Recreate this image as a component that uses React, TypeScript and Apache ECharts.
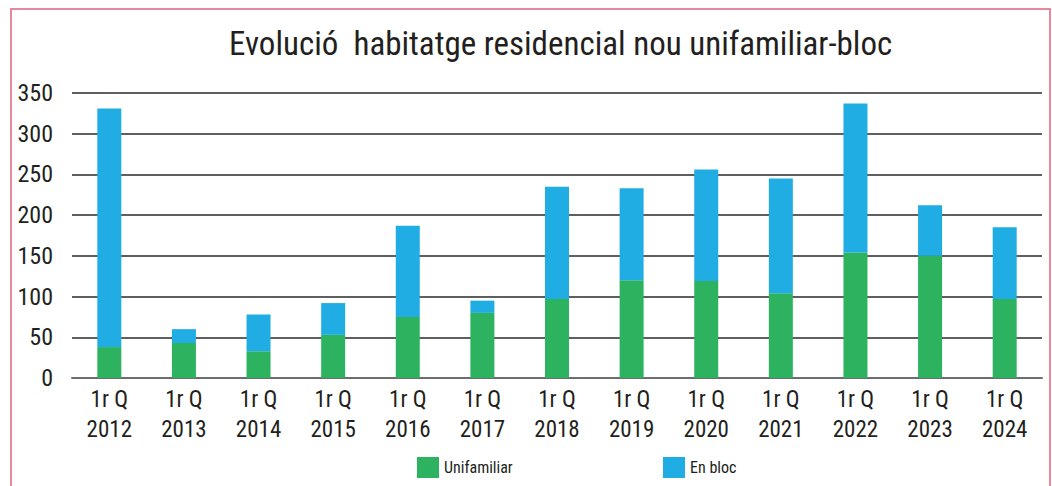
import React, { useEffect, useRef } from "react";
import * as echarts from "echarts";

const years = ["2012", "2013", "2014", "2015", "2016", "2017", "2018", "2019", "2020", "2021", "2022", "2023", "2024"];
const categories = years.map((y) => "1r Q\n" + y);
const unifamiliar = [38, 43, 33, 53, 75, 80, 97, 120, 119, 104, 154, 150, 97];
const enBloc = [293, 17, 45, 39, 112, 15, 138, 113, 137, 141, 183, 62, 88];
const yTicks = [0, 50, 100, 150, 200, 250, 300, 350];

const FONT = "'Roboto Condensed', 'Roboto', sans-serif";

export default function App() {
  const ref = useRef<HTMLDivElement>(null);
  useEffect(() => {
    if (!ref.current) return;
    const chart = echarts.init(ref.current, null, { renderer: "svg" });
    chart.setOption({
      animation: false,
      backgroundColor: "#ffffff",
      textStyle: { fontFamily: FONT },
      title: {
        text: "Evolució  habitatge residencial nou unifamiliar-bloc",
        left: 224,
        top: 22,
        textStyle: { fontFamily: FONT, fontSize: 33, fontWeight: "normal", color: "#231f20" },
      },
      graphic: [
        {
          type: "rect",
          shape: { x: 11, y: 9, width: 1039, height: 520 },
          style: { fill: "none", stroke: "#e2899a", lineWidth: 2 },
          silent: true,
        },
      ],
      legend: [
        {
          data: ["Unifamiliar"],
          left: 412,
          top: 452,
          itemWidth: 22,
          itemHeight: 21,
          itemGap: 10,
          icon: "rect",
          textStyle: { fontFamily: FONT, fontSize: 16, color: "#231f20" },
        },
        {
          data: ["En bloc"],
          left: 658,
          top: 452,
          itemWidth: 22,
          itemHeight: 21,
          itemGap: 10,
          icon: "rect",
          textStyle: { fontFamily: FONT, fontSize: 16, color: "#231f20" },
        },
      ],
      grid: { left: 72, right: 10, top: 93, bottom: 108, containLabel: false },
      xAxis: {
        type: "category",
        data: categories,
        axisTick: { show: false },
        axisLine: { lineStyle: { color: "#6d6d6d", width: 2 } },
        axisLabel: {
          interval: 0,
          margin: 6,
          fontFamily: FONT,
          fontSize: 23,
          lineHeight: 30,
          color: "#231f20",
        },
      },
      yAxis: {
        type: "value",
        min: yTicks[0],
        max: yTicks[yTicks.length - 1],
        interval: 50,
        axisLine: { show: false },
        axisTick: { show: false },
        splitLine: { lineStyle: { color: "#2a2a2a", width: 1.5 } },
        axisLabel: { margin: 19, fontFamily: FONT, fontSize: 24, color: "#231f20" },
      },
      series: [
        {
          name: "Unifamiliar",
          type: "bar",
          stack: "total",
          data: unifamiliar,
          barWidth: 24,
          itemStyle: { color: "#2db35f" },
        },
        {
          name: "En bloc",
          type: "bar",
          stack: "total",
          data: enBloc,
          barWidth: 24,
          itemStyle: { color: "#1fade4" },
        },
      ],
    });
    return () => chart.dispose();
  }, []);
  return <div ref={ref} style={{ position: "absolute", left: 0, top: 0, width: 1052, height: 486 }} />;
}
